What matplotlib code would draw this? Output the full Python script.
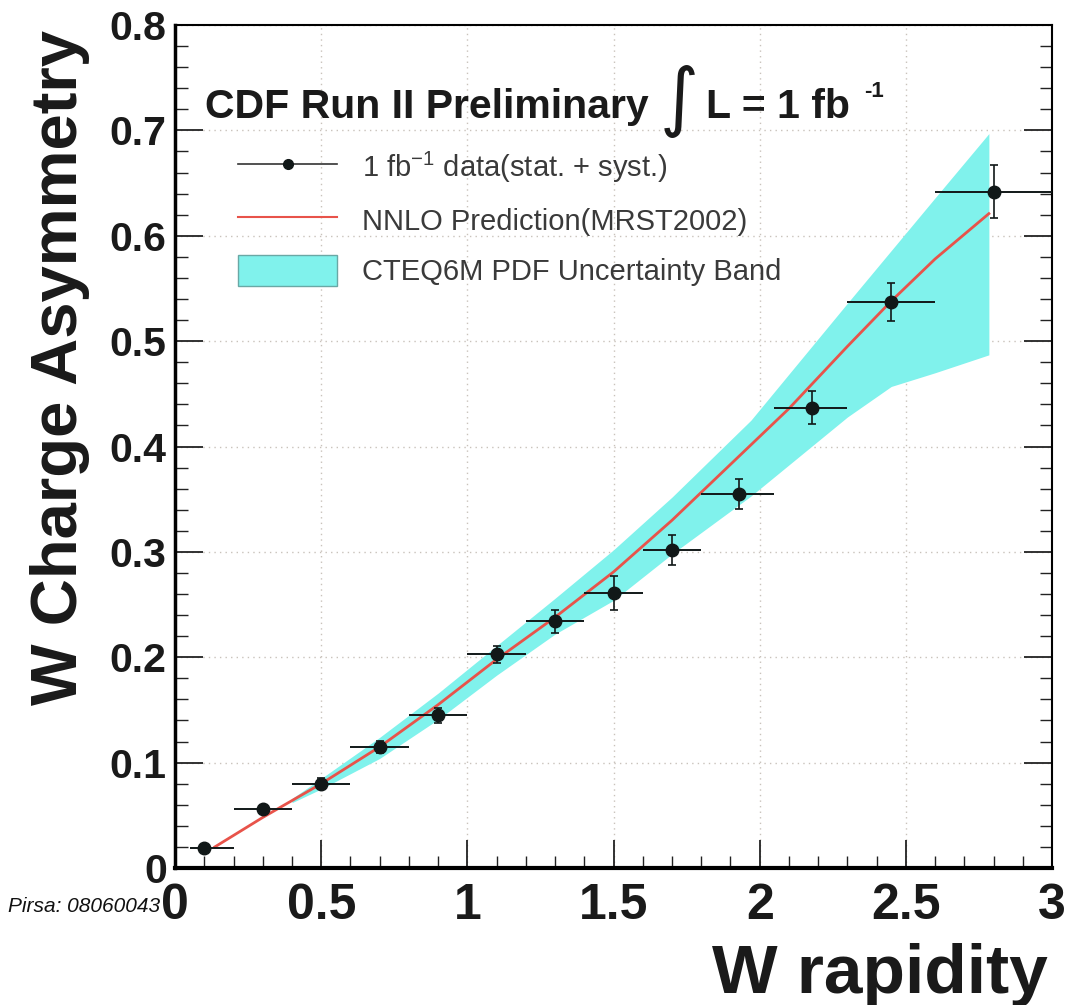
#!/usr/bin/env python3

import numpy as np
import matplotlib
matplotlib.use("Agg")
import matplotlib.pyplot as plt
from matplotlib.lines import Line2D
from matplotlib.patches import Patch
from matplotlib.ticker import MultipleLocator, FuncFormatter

plt.rcParams['font.family'] = ['Liberation Sans', 'DejaVu Sans']
plt.rcParams['mathtext.fontset'] = 'custom'
plt.rcParams['mathtext.rm'] = 'Liberation Sans'
plt.rcParams['mathtext.bf'] = 'Liberation Sans:bold'

# measured W charge asymmetry, bins in W rapidity
y_center = [0.1, 0.3, 0.5, 0.7, 0.9, 1.1, 1.3, 1.5, 1.7, 1.93, 2.18, 2.45, 2.8]
y_low = [0.05, 0.2, 0.4, 0.6, 0.8, 1.0, 1.2, 1.4, 1.6, 1.8, 2.05, 2.3, 2.6]
y_high = [0.2, 0.4, 0.6, 0.8, 1.0, 1.2, 1.4, 1.6, 1.8, 2.05, 2.3, 2.6, 3.0]
asym = [0.019, 0.056, 0.080, 0.115, 0.145, 0.203, 0.234, 0.261, 0.302, 0.355, 0.437, 0.537, 0.642]
asym_err = [0.003, 0.004, 0.005, 0.006, 0.007, 0.008, 0.011, 0.016, 0.014, 0.014, 0.016, 0.018, 0.025]

# NNLO prediction (MRST2002)
nnlo_x = [0.136, 0.3, 0.5, 0.7, 0.9, 1.1, 1.3, 1.5, 1.7, 1.9, 2.1, 2.3, 2.45, 2.6, 2.784]
nnlo_y = [0.020, 0.048, 0.080, 0.115, 0.155, 0.198, 0.238, 0.281, 0.330, 0.383, 0.436, 0.495, 0.538, 0.578, 0.621]

# CTEQ6M PDF uncertainty band
band_x = [0.4, 0.5, 0.7, 0.9, 1.1, 1.3, 1.5, 1.7, 1.97, 2.3, 2.45, 2.6, 2.784]
band_hi = [0.066, 0.085, 0.124, 0.166, 0.211, 0.256, 0.302, 0.352, 0.425, 0.536, 0.586, 0.636, 0.697]
band_lo = [0.062, 0.075, 0.104, 0.141, 0.183, 0.222, 0.254, 0.298, 0.353, 0.428, 0.457, 0.470, 0.487]

cyan = '#80f2ec'
red = '#e8534a'
dark = '#111818'

fig = plt.figure(figsize=(10.7, 10.05), dpi=100)
ax = fig.add_axes([0.1636, 0.1363, 0.8196, 0.8388])

ax.fill_between(band_x, band_lo, band_hi, color=cyan, lw=0, zorder=1)
ax.plot(nnlo_x, nnlo_y, color=red, lw=2.0, zorder=2)

xc = np.array(y_center)
xerr = [xc - np.array(y_low), np.array(y_high) - xc]
ax.errorbar(xc, asym, xerr=xerr, fmt='none', ecolor=dark, elinewidth=1.4, capsize=0, zorder=3)
ax.errorbar(xc, asym, yerr=asym_err, fmt='o', color=dark, ms=9, elinewidth=1.2,
            capsize=3, capthick=1.2, zorder=4)

ax.set_xlim(0, 3)
ax.set_ylim(0, 0.8)
ax.xaxis.set_major_locator(MultipleLocator(0.5))
ax.xaxis.set_minor_locator(MultipleLocator(0.1))
ax.yaxis.set_major_locator(MultipleLocator(0.1))
ax.yaxis.set_minor_locator(MultipleLocator(0.02))
fmt = FuncFormatter(lambda v, p: '%g' % round(v, 2))
ax.xaxis.set_major_formatter(fmt)
ax.yaxis.set_major_formatter(fmt)

ax.tick_params(which='both', direction='in', right=True, top=False, color='#222')
ax.tick_params(which='major', length=20, width=1.3)
ax.tick_params(which='minor', length=9, width=1.0)
ax.tick_params(axis='x', which='major', labelsize=36, pad=11)
ax.tick_params(axis='y', which='major', labelsize=29.5, pad=6)
for lab in ax.get_xticklabels() + ax.get_yticklabels():
    lab.set_fontweight('bold')
    lab.set_color('#1a1a1a')

ax.grid(True, which='major', color='#c9c2bb', linestyle=(0, (1, 3)), lw=1.0)
ax.set_axisbelow(True)
ax.spines['left'].set_linewidth(2.5)
ax.spines['bottom'].set_linewidth(3)
ax.spines['top'].set_linewidth(1.5)
ax.spines['right'].set_linewidth(1.5)

# header
ax.text(0.034, 0.89, 'CDF Run II Preliminary', transform=ax.transAxes, fontsize=29.5,
        fontweight='bold', color='#1a1a1a', va='baseline')
ax.text(0.553, 0.885, '\u222b', transform=ax.transAxes, fontsize=54, family='DejaVu Sans',
        color='#1a1a1a', va='baseline')
ax.text(0.605, 0.89, 'L = 1 fb', transform=ax.transAxes, fontsize=29.5,
        fontweight='bold', color='#1a1a1a', va='baseline')
ax.text(0.786, 0.915, '-1', transform=ax.transAxes, fontsize=16,
        fontweight='bold', color='#1a1a1a', va='baseline')

handles = [
    Line2D([], [], color='#333', lw=1.2, marker='o', ms=7, mfc=dark, mec=dark),
    Line2D([], [], color=red, lw=1.5),
    Patch(facecolor=cyan, edgecolor='#6aa8a5', lw=1),
]
labels = ['1 fb$^{-1}$ data(stat. + syst.)', 'NNLO Prediction(MRST2002)',
          'CTEQ6M PDF Uncertainty Band']
leg = ax.legend(handles, labels, loc='upper left', bbox_to_anchor=(0.072, 0.852),
                frameon=False, fontsize=21, borderpad=0, borderaxespad=0,
                handlelength=3.4, handleheight=1.3, handletextpad=0.85, labelspacing=0.65)
for t in leg.get_texts():
    t.set_color('#3a3a3a')

ax.set_ylabel('W Charge Asymmetry', fontsize=47, fontweight='bold', color='#1a1a1a')
ax.yaxis.set_label_coords(-0.097, 0.594)

fig.text(0.979, 0.012, 'W rapidity', fontsize=50, fontweight='bold', color='#1a1a1a',
         ha='right', va='baseline')
fig.text(0.0075, 0.0925, 'Pirsa: 08060043', fontsize=15, style='italic', color='#111',
         va='baseline')

fig.savefig('out.png', dpi=100)
